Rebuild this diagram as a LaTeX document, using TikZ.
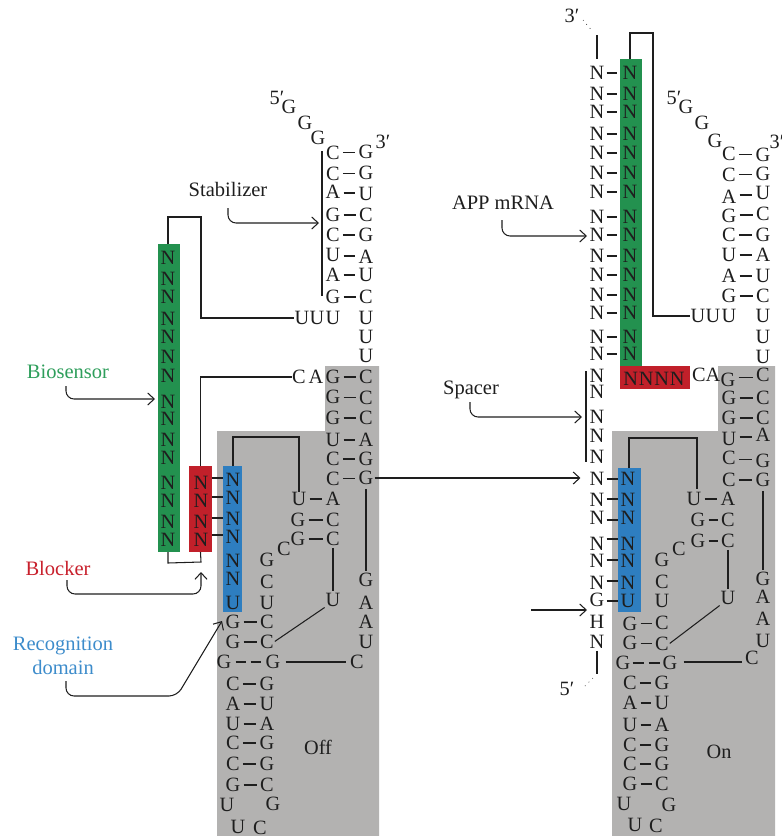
\documentclass[tikz,border=0pt]{standalone}
\usepackage{fontspec}
\setmainfont{Liberation Serif}
\usetikzlibrary{calc,arrows.meta}
\definecolor{txt}{HTML}{1E1E1E}
\definecolor{greyarea}{HTML}{B3B2B1}
\definecolor{barG}{HTML}{23914F}
\definecolor{barR}{HTML}{C1202A}
\definecolor{barB}{HTML}{2E7EC0}
\definecolor{labG}{HTML}{2E9E5B}
\definecolor{labR}{HTML}{C8202C}
\definecolor{labB}{HTML}{3D8CCB}
\tikzset{
 nt/.style={inner sep=0pt,minimum width=13pt,text height=13.4pt,text depth=0pt,text=txt,font=\fontsize{20.3}{20.3}\selectfont},
 bp/.style={draw=txt,line width=1.1pt,shorten <=3pt,shorten >=3pt},
 ln/.style={draw=txt,line width=1.05pt},
 arr/.style={draw=txt,line width=1.05pt,rounded corners=8pt,-{Straight Barb[length=6.5pt,width=12pt,line width=1.05pt]}},
 bar/.style={inner sep=0pt,draw=none},
 lab/.style={inner sep=0pt,text=txt,font=\fontsize{20.5}{20.5}\selectfont},
 dots/.style={draw=txt,line width=.6pt,dash pattern=on .8pt off 4.5pt}
}
\newcommand\bpair[7]{%
 \node[nt] (#1a) at (#2,#3) {#4};
 \node[nt] (#1b) at (#5,#6) {#7};
 \path ($(#1a.east)!.5!(#1b.west)$) coordinate (#1m);
 \draw[bp] (#1a.east |- #1m) -- (#1b.west |- #1m);
}
\begin{document}
\begin{tikzpicture}[x=1pt,y=-1pt]
\useasboundingbox (0,0) rectangle (782,836);
% grey areas
\fill[greyarea] (217,836) -- (217,431) -- (325,431) -- (325,366) -- (379,366) -- (379,836) -- cycle;
\fill[greyarea] (612,836) -- (612,431) -- (718,431) -- (718,366) -- (775,366) -- (775,836) -- cycle;
% bars
\node[bar,fill=barG,minimum width=22pt,minimum height=308pt] (lgreen) at (169,398) {};
\node[bar,fill=barR,minimum width=23pt,minimum height=86pt] (lred) at (200.5,509) {};
\node[bar,fill=barB,minimum width=19pt,minimum height=146pt] (lblue) at (232.5,539) {};
\node[bar,fill=barG,minimum width=22pt,minimum height=307pt] (rgreen) at (631,212.5) {};
\node[bar,fill=barR,minimum width=70pt,minimum height=23pt] (rred) at (655,377.5) {};
\node[bar,fill=barB,minimum width=23pt,minimum height=144pt] (rblue) at (629.5,540) {};

% ---------- LEFT (Off) ----------
\node[nt] (l5) at (277,98) {5′};
\foreach \n/\x/\y in {lg1/289/107,lg2/305/123,lg3/318/138} \node[nt] (\n) at (\x,\y) {G};
\node[nt] (l3) at (383,142) {3′};
\bpair{ls1}{333}{153}{C}{366}{152}{G}
\bpair{ls2}{333}{174}{C}{366}{173}{G}
\bpair{ls3}{333}{192}{A}{366}{194}{U}
\bpair{ls4}{333}{215}{G}{366}{215}{C}
\bpair{ls5}{333}{235}{C}{366}{235}{G}
\bpair{ls6}{333}{255}{U}{366}{257}{A}
\bpair{ls7}{333}{275}{A}{366}{275}{U}
\bpair{ls8}{333}{297}{G}{366}{297}{C}
\foreach \n/\x/\y in {lu1/302/318,lu2/317/318,lu3/333/318,lu4/366/318,lu5/366/337,lu6/366/356} \node[nt] (\n) at (\x,\y) {U};
\node[nt] (lc) at (299,377) {C};
\node[nt] (la) at (316,377) {A};
\bpair{lt1}{333}{377}{G}{366}{377}{C}
\bpair{lt2}{333}{397}{G}{366}{398}{C}
\bpair{lt3}{333}{418}{G}{366}{418}{C}
\bpair{lt4}{333}{440}{U}{366}{440}{A}
\bpair{lt5}{333}{459}{C}{366}{459}{G}
\bpair{lt6}{333}{479}{C}{366}{478}{G}
\bpair{lm1}{299}{499}{U}{333}{499}{A}
\bpair{lm2}{298}{520}{G}{333}{520}{C}
\bpair{lm3}{298}{539}{G}{333}{539}{C}
\node[nt] (lm4) at (284,549) {C};
\node[nt] (lm5) at (267,560) {G};
\node[nt] (lm6) at (267,582) {C};
\node[nt] (lm7) at (267,603) {U};
\bpair{lb1}{233}{622}{G}{267}{622}{C}
\bpair{lb2}{233}{642}{G}{267}{642}{C}
\node[nt] (lgg1) at (224,662) {G};
\node[nt] (lgg2) at (273,662) {G};
\draw[bp,shorten <=4pt,shorten >=3pt,dash pattern=on 10pt off 5pt] (lgg1.east) -- (lgg2.west);
\node[nt] (lcc) at (357,662) {C};
\draw[ln,shorten <=5pt,shorten >=4pt] (lgg2.east) -- (lcc.west);
\bpair{lb3}{233}{684}{C}{267}{684}{G}
\bpair{lb4}{233}{704}{A}{267}{704}{U}
\bpair{lb5}{233}{724}{U}{267}{724}{A}
\bpair{lb6}{233}{743}{C}{267}{743}{G}
\bpair{lb7}{233}{764}{C}{267}{764}{G}
\bpair{lb8}{233}{785}{G}{267}{785}{C}
\node[nt] (lb9) at (227,805) {U};
\node[nt] (lb10) at (273,804) {G};
\node[nt] (lb11) at (238,827) {U};
\node[nt] (lb12) at (260,828) {C};
\node[nt] (loff) at (318,748) {Off};
\node[nt] (lu) at (333,600) {U};
\draw[ln,shorten <=2pt,shorten >=2pt] (lm3b.south) -- (lu.north);
\draw[ln,shorten <=1pt,shorten >=1pt] (lu.south west) -- (lb2b.east);
\foreach \n/\y/\t in {lr1/580/G,lr2/603/A,lr3/622/A,lr4/642/U} \node[nt] (\n) at (366,\y) {\t};
\draw[ln,shorten <=4pt,shorten >=2pt] (lt6b.south) -- (lr1.north);
% green letters
\foreach \i/\y in {1/258,2/279,3/297,4/319,5/337,6/357,7/376,8/402,9/419,10/440,11/458,12/483,13/501,14/522,15/540}
  \node[nt] (lgn\i) at (168,\y) {N};
\foreach \i/\y in {1/483,2/501,3/522,4/540} \node[nt] (lrn\i) at (201,\y) {N};
\foreach \i/\y in {1/480,2/498,3/519,4/537,5/561,6/579} \node[nt] (lbn\i) at (233,\y) {N};
\node[nt] (lbn7) at (233,603) {U};
\foreach \i/\o in {1/2,2/1,3/1,4/2}{
  \path (lbn\i.west) ++(0,-\o) coordinate (lh\i);
  \draw[ln] (lred.east |- lh\i) -- (lblue.west |- lh\i);
}
% backbone
\draw[ln,line join=miter] (168,244) |- (201,217) |- (lu1.west);
\draw[ln,line join=miter] (lred.north) |- (lc.west);
\draw[ln,line join=miter] (168,552) -- (168,563) -- (201,562) -- (lred.south);
\draw[ln,line join=miter] (233,466) |- (299,437) -- (lm1a.north);
\draw[ln] (322,151) -- (322,296);
% labels and arrows
\node[lab] (tstab) at (228,189) {Stabilizer};
\node[lab,text=labG] (tbio) at (68,372) {Biosensor};
\node[lab,text=labR] (tblo) at (58,568) {Blocker};
\node[lab,text=labB,align=center,font=\fontsize{20.5}{24}\selectfont] (trec) at (63,656) {Recognition\\domain};
\coordinate (astab) at (319,223);
\coordinate (abio) at (155,399);
\coordinate (ablo) at (201,572);
\coordinate (arec) at (222,621);
\draw[arr] (228,208) |- (astab);
\draw[arr] (66,386) |- (abio);
\draw[arr] (67,580) |- (201,594) -- (ablo);
\draw[arr] (66,681) |- (177,696) -- (arec);

% ---------- RIGHT (On) ----------
\node[nt] (r3t) at (572,16) {3′};
\coordinate (rdot1) at (597,35);
\draw[dots] (583,20) -- (593,32);
\draw[ln] (rdot1) -- (597,59);
\foreach \i/\y in {1/73,2/94,3/112,4/134,5/153,6/173,7/192,8/217,9/235,10/256,11/275,12/295,13/313,14/337,15/354}{
  \node[nt] (rl\i) at (597,\y) {N};
  \node[nt] (rg\i) at (630,\y) {N};
  \draw[ln,shorten <=2pt,shorten >=5pt] (rl\i.east) -- (rg\i.west);
}
\node[nt,text width=62pt,align=center] (rnnnn) at (654,379) {\addfontfeature{LetterSpace=4}NNNN};
\node[nt] (rc) at (699,375) {C};
\node[nt] (ra) at (713,375) {A};
\foreach \i/\y in {1/376,2/392,3/417,4/436,5/457} \node[nt] (rsp\i) at (597,\y) {N};
\draw[ln] (586,371) -- (586,462);
\foreach \i/\y in {1/479,2/500,3/518,4/544,5/561,6/583}{
  \node[nt] (rp\i) at (597,\y) {N};
  \node[nt] (rq\i) at (628,\y) {N};
}
\node[nt] (rp7) at (597,600) {G};
\node[nt] (rq7) at (628,601) {U};
\foreach \i/\y in {1/479,2/499,3/520,4/539,5/560,6/581,7/601}
  \draw[ln] (rp\i.east |- 0,\y) ++(2,0) -- (rblue.west |- 0,\y);
\node[nt] (rh) at (597,622) {H};
\node[nt] (rn) at (597,642) {N};
\draw[ln] (rn.south) ++(0,2) -- (597,674);
\draw[dots] (593,678) -- (583,688);
\node[nt] (r5b) at (567,689) {5′};

\node[nt] (r5) at (674,98) {5′};
\foreach \n/\x/\y in {rg1x/686/107,rg2x/702/123,rg3x/715/141} \node[nt] (\n) at (\x,\y) {G};
\node[nt] (r3) at (777,142) {3′};
\bpair{rs1}{729}{154}{C}{763}{155}{G}
\bpair{rs2}{729}{175}{C}{763}{174}{G}
\bpair{rs3}{729}{197}{A}{763}{193}{U}
\bpair{rs4}{729}{216}{G}{763}{214}{C}
\bpair{rs5}{729}{235}{C}{763}{235}{G}
\bpair{rs6}{729}{255}{U}{763}{255}{A}
\bpair{rs7}{729}{276}{A}{763}{276}{U}
\bpair{rs8}{729}{296}{G}{763}{296}{C}
\foreach \n/\x/\y in {ru1/698/316,ru2/713/316,ru3/729/316,ru4/763/316,ru5/763/337,ru6/763/357} \node[nt] (\n) at (\x,\y) {U};
\bpair{rt1}{728}{380}{G}{763}{375}{C}
\bpair{rt2}{729}{398}{G}{763}{398}{C}
\bpair{rt3}{729}{418}{G}{763}{418}{C}
\bpair{rt4}{729}{439}{U}{763}{435}{A}
\bpair{rt5}{729}{458}{C}{763}{461}{G}
\bpair{rt6}{729}{480}{C}{763}{480}{G}
\bpair{rm1}{694}{499}{U}{728}{499}{A}
\bpair{rm2}{698}{520}{G}{728}{520}{C}
\bpair{rm3}{698}{541}{G}{728}{541}{C}
\node[nt] (rm4) at (679,549) {C};
\node[nt] (rm5) at (662,560) {G};
\node[nt] (rm6) at (662,582) {C};
\node[nt] (rm7) at (662,601) {U};
\bpair{rb1}{630}{624}{G}{662}{623}{C}
\bpair{rb2}{630}{643}{G}{662}{644}{C}
\node[nt] (rgg1) at (623,663) {G};
\node[nt] (rgg2) at (670,663) {G};
\draw[bp,shorten <=2pt,shorten >=2pt,dash pattern=on 11pt off 5pt] (rgg1.east) -- (rgg2.west);
\node[nt] (rcc) at (752,658) {C};
\draw[ln,shorten <=6pt,shorten >=3pt] (rgg2.east) ++(0,-1) -- (rcc.west |- 0,662);
\bpair{rb3}{630}{683}{C}{662}{683}{G}
\bpair{rb4}{630}{703}{A}{662}{703}{U}
\bpair{rb5}{630}{725}{U}{662}{725}{A}
\bpair{rb6}{630}{745}{C}{662}{745}{G}
\bpair{rb7}{630}{764}{C}{662}{764}{G}
\bpair{rb8}{630}{784}{G}{662}{784}{C}
\node[nt] (rb9) at (624,804) {U};
\node[nt] (rb10) at (669,805) {G};
\node[nt] (rb11) at (635,825) {U};
\node[nt] (rb12) at (656,826) {C};
\node[nt] (ron) at (719,752) {On};
\node[nt] (ru) at (728,598) {U};
\draw[ln,shorten <=2pt,shorten >=2pt] (rm3b.south) -- (ru.north);
\draw[ln,shorten <=1pt,shorten >=1pt] (ru.south west) -- (rb2b.east);
\foreach \n/\y/\t in {rr1/579/G,rr2/597/A,rr3/619/A,rr4/641/U} \node[nt] (\n) at (763,\y) {\t};
\draw[ln,shorten <=4pt,shorten >=2pt] (rt6b.south) -- (rr1.north);
% backbone
\draw[ln,line join=miter] (630,59) |- (653,33) |- (ru1.west);
\coordinate (rloop) at (697,489);
\draw[ln,line join=miter] (629,468) |- (697,438) -- (rloop);
% labels and arrows
\node[lab] (tapp) at (503,203) {APP mRNA};
\node[lab] (tspa) at (471,390) {Spacer};
\coordinate (aapp) at (587,236);
\coordinate (aspa) at (582,417);
\coordinate (aloop) at (587,610);
\coordinate (aleft) at (531,610);
\draw[arr] (502,220) |- (aapp);
\draw[arr] (470,402) |- (aspa);
\draw[arr] (aleft) -- (aloop);
% connecting arrow Off to On
\draw[arr,shorten <=1pt,shorten >=9pt] (lt6b.east) -- (lt6b.east -| rp1.west);
\end{tikzpicture}
\end{document}
